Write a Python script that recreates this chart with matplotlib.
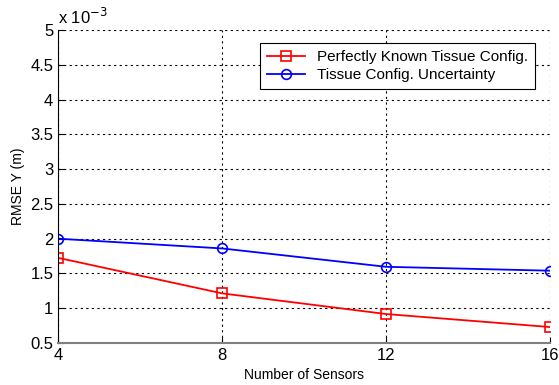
import matplotlib.pyplot as plt

plt.rcParams['font.family'] = ['Liberation Sans', 'DejaVu Sans']

sensors = [4, 8, 12, 16]
known = [1.725, 1.214, 0.917, 0.73]
uncertain = [2.0, 1.86, 1.596, 1.54]
yticks = [0.5, 1, 1.5, 2, 2.5, 3, 3.5, 4, 4.5, 5]

fig = plt.figure(figsize=(5.59, 3.85), dpi=100)
ax = fig.add_axes([0.104, 0.109, 0.880, 0.813])

ax.plot(sensors, known, color='red', marker='s', markersize=7, markerfacecolor='none',
        markeredgewidth=1.2, linewidth=1.3, label='Perfectly Known Tissue Config.')
ax.plot(sensors, uncertain, color='blue', marker='o', markersize=7, markerfacecolor='none',
        markeredgewidth=1.2, linewidth=1.3, label='Tissue Config. Uncertainty')

ax.set_xlim(4, 16)
ax.set_ylim(0.5, 5)
ax.set_xticks(sensors)
ax.set_yticks(yticks)
ax.set_yticklabels([f'{v:g}' for v in yticks])
ax.tick_params(direction='in', labelsize=12, length=4)
ax.grid(True, color='black', linestyle=(0, (2, 3)), linewidth=0.8)
ax.spines['top'].set_visible(False)
ax.spines['right'].set_visible(False)
ax.spines['bottom'].set_color('#808080')
ax.spines['bottom'].set_linewidth(1.5)

ax.text(0.0, 1.01, r'x 10$^{-3}$', transform=ax.transAxes, fontsize=12, ha='left', va='bottom')
ax.set_xlabel('Number of Sensors', fontsize=10)
ax.set_ylabel('RMSE Y (m)', fontsize=10)

leg = ax.legend(loc='upper right', bbox_to_anchor=(0.97, 0.958), borderaxespad=0,
                fontsize=11, fancybox=False, framealpha=1, edgecolor='black',
                handlelength=2.5, borderpad=0.45, labelspacing=0.25)
leg.get_frame().set_linewidth(0.8)

fig.savefig('out.png', dpi=100)
